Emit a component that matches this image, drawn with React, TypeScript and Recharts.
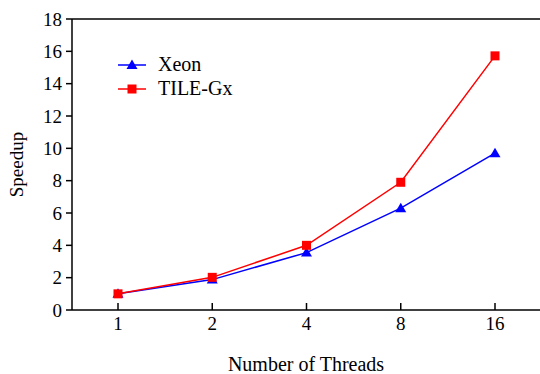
import {
  LineChart,
  Line,
  XAxis,
  YAxis,
  ReferenceLine,
  Label,
} from "recharts";

const threads = ["1", "2", "4", "8", "16"];
const xeon = [1.0, 1.88, 3.55, 6.3, 9.7];
const tileGx = [1.0, 2.02, 4.0, 7.9, 15.72];
const yTicks = [0, 2, 4, 6, 8, 10, 12, 14, 16, 18];

const data = threads.map((t, i) => ({
  threads: t,
  xeon: xeon[i],
  tileGx: tileGx[i],
}));

const font = "Liberation Serif, Times New Roman, serif";

function Triangle(props: any) {
  const { cx, cy, fill } = props;
  if (cx == null || cy == null) return null;
  return <path d={`M${cx},${cy - 5.5} L${cx + 5.5},${cy + 4} L${cx - 5.5},${cy + 4} Z`} fill={fill} />;
}

function Square(props: any) {
  const { cx, cy, fill } = props;
  if (cx == null || cy == null) return null;
  return <rect x={cx - 4.5} y={cy - 4.5} width={9} height={9} fill={fill} />;
}

function LegendBox() {
  const rows = [
    { name: "Xeon", color: "#0000ff", shape: "tri" },
    { name: "TILE-Gx", color: "#ff0000", shape: "sq" },
  ];
  return (
    <svg width={180} height={50}>
      {rows.map((r, i) => {
        const y = 11 + i * 24;
        return (
          <g key={r.name}>
            <line x1={0} x2={28} y1={y} y2={y} stroke={r.color} strokeWidth={1.5} />
            {r.shape === "tri" ? (
              <Triangle cx={14} cy={y} fill={r.color} />
            ) : (
              <Square cx={14} cy={y} fill={r.color} />
            )}
            <text x={40} y={y + 6} fontFamily={font} fontSize={20} fill="#000">
              {r.name}
            </text>
          </g>
        );
      })}
    </svg>
  );
}

export default function App() {
  return (
    <div style={{ position: "relative", width: 540, height: 374, fontFamily: font }}>
      <style>{`body{margin:0;background:#fff}`}</style>
      <LineChart
        width={540}
        height={374}
        data={data}
        margin={{ top: 19, right: 0, left: 0, bottom: 0 }}
      >
        <XAxis
          dataKey="threads"
          height={64}
          padding={{ left: 46, right: 45 }}
          stroke="#000"
          strokeWidth={1.5}
          tickSize={-7}
          tickMargin={14}
          tick={{ fill: "#000", fontSize: 19, fontFamily: font }}
        >
          <Label
            value="Number of Threads"
            position="insideBottom"
            offset={3}
            fontFamily={font}
            style={{ fill: "#000", fontSize: 20, fontFamily: font }}
          />
        </XAxis>
        <YAxis
          domain={[0, 18]}
          ticks={yTicks}
          width={72}
          stroke="#000"
          strokeWidth={1.5}
          tickSize={6}
          tickMargin={4}
          interval={0}
          tick={{ fill: "#000", fontSize: 19, fontFamily: font }}
        >
          <Label
            value="Speedup"
            angle={-90}
            position="insideLeft"
            offset={16}
            fontFamily={font}
            style={{ fill: "#000", fontSize: 19, fontFamily: font, textAnchor: "middle" }}
          />
        </YAxis>
        <ReferenceLine y={18} stroke="#000" strokeWidth={1.5} />
        <Line
          dataKey="xeon"
          stroke="#0000ff"
          strokeWidth={1.5}
          dot={<Triangle fill="#0000ff" />}
          activeDot={false}
          isAnimationActive={false}
        />
        <Line
          dataKey="tileGx"
          stroke="#ff0000"
          strokeWidth={1.5}
          dot={<Square fill="#ff0000" />}
          activeDot={false}
          isAnimationActive={false}
        />
      </LineChart>
      <div style={{ position: "absolute", left: 118, top: 54 }}>
        <LegendBox />
      </div>
    </div>
  );
}
